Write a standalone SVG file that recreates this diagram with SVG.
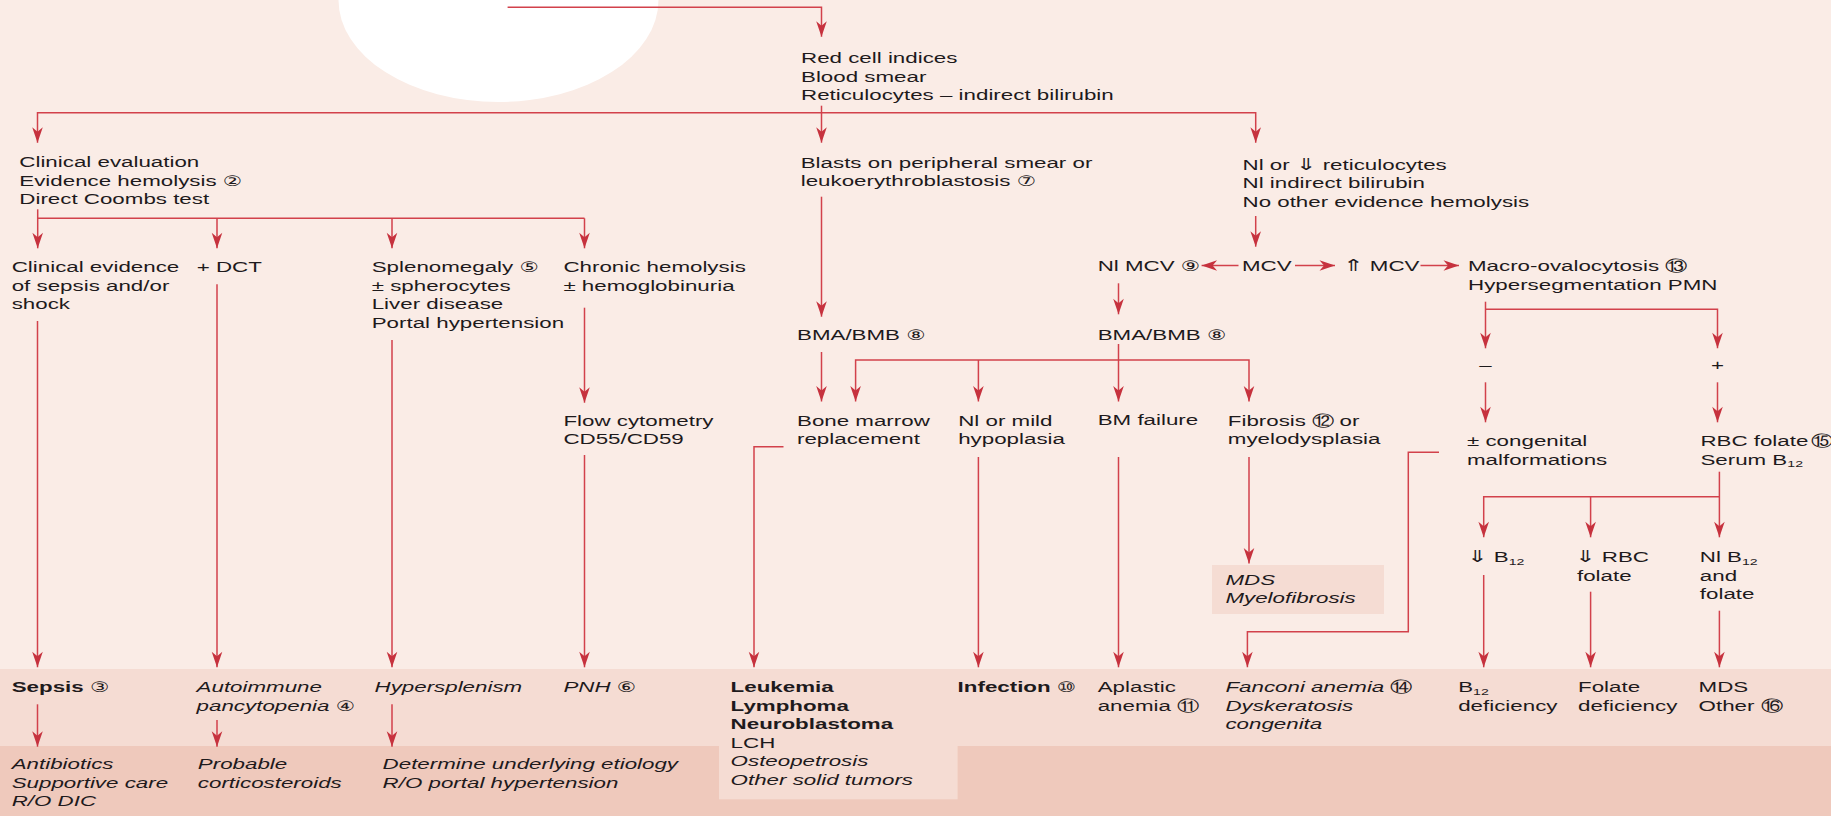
<svg xmlns="http://www.w3.org/2000/svg" width="1831" height="816" viewBox="0 0 1831 816">
<style>
.t{font-family:"Liberation Sans","DejaVu Sans",sans-serif;font-size:15px;fill:#1E1A1C}
.i{font-style:italic}
.b{font-weight:bold}
.c{font-family:"DejaVu Sans",sans-serif;font-size:14.5px;font-style:normal;font-weight:normal}
.a{font-family:"DejaVu Sans",sans-serif;font-size:16.5px;font-style:normal;font-weight:normal}
.s{font-size:9.5px}
.ln{fill:none;stroke:#D2414B;stroke-width:1.5}
.ar{marker-end:url(#ah)}
</style>
<defs>
<marker id="ah" viewBox="-16 -6 17 12" refX="0" refY="0" markerWidth="17" markerHeight="12" markerUnits="userSpaceOnUse" orient="auto">
<path d="M0,0 L-15.5,-5.3 L-11,0 L-15.5,5.3 Z" fill="#C6323E"/>
</marker>
</defs>
<g id="background">
<rect x="0" y="0" width="1831" height="816" fill="#FAECE6"/>
<ellipse cx="498.5" cy="0" rx="160" ry="102" fill="#FFFFFF"/>
<rect x="0" y="669" width="1831" height="77" fill="#F5DCD3"/>
<rect x="0" y="746" width="1831" height="70" fill="#EFC9BC"/>
<rect x="719" y="746" width="238.6" height="53.3" fill="#F5DCD3"/>
<rect x="1212" y="565" width="172" height="49" fill="#F5DCD3"/>
</g>
<g id="connectors">
<path class="ln ar" d="M507.6,7.3 H821.5 V36.7"/>
<path class="ln ar" d="M821.5,105.7 V142.7"/>
<path class="ln ar" d="M821.5,112.7 H37.5 V142.7"/>
<path class="ln ar" d="M821.5,112.7 H1255.7 V142.7"/>
<path class="ln ar" d="M37.7,209.3 V248.3"/>
<path class="ln" d="M37.7,218.3 H584.5"/>
<path class="ln ar" d="M217,218.3 V248.3"/>
<path class="ln ar" d="M392,218.3 V248.3"/>
<path class="ln ar" d="M584.5,218.3 V248.3"/>
<path class="ln ar" d="M37.5,321 V667.3"/>
<path class="ln ar" d="M217,284.3 V667.3"/>
<path class="ln ar" d="M392,340 V667.3"/>
<path class="ln ar" d="M584.5,307.7 V402.7"/>
<path class="ln ar" d="M584.5,455 V667.3"/>
<path class="ln ar" d="M821.5,196.7 V316.7"/>
<path class="ln ar" d="M821.5,352 V401.5"/>
<path class="ln ar" d="M1118.5,344 V401.5"/>
<path class="ln ar" d="M1118.5,360 H855.6 V401.5"/>
<path class="ln ar" d="M1118.5,360 H1249 V401.5"/>
<path class="ln ar" d="M978.4,360 V401.5"/>
<path class="ln ar" d="M1255.7,216 V246.7"/>
<path class="ln ar" d="M1238.5,265.5 H1201.6"/>
<path class="ln ar" d="M1295,265.5 H1335"/>
<path class="ln ar" d="M1420.5,265.5 H1459"/>
<path class="ln ar" d="M1118.5,283.3 V314.3"/>
<path class="ln ar" d="M1485.5,301.7 V348.3"/>
<path class="ln ar" d="M1485.5,309.3 H1717.5 V348.3"/>
<path class="ln ar" d="M1485.5,382.3 V422.3"/>
<path class="ln ar" d="M1717.5,382.3 V422.3"/>
<path class="ln ar" d="M1249,457 V563.5"/>
<path class="ln ar" d="M978.4,457 V667.3"/>
<path class="ln ar" d="M1118.5,457 V667.3"/>
<path class="ln ar" d="M1439,452.3 H1408.3 V631.7 H1247.4 V667.3"/>
<path class="ln ar" d="M783.5,446.7 H754 V667.3"/>
<path class="ln ar" d="M1719.4,471.7 V537.3"/>
<path class="ln ar" d="M1719.4,496.7 H1483.7 V537.3"/>
<path class="ln ar" d="M1590.6,496.7 V537.3"/>
<path class="ln ar" d="M1483.7,575 V667.3"/>
<path class="ln ar" d="M1590.6,591.7 V667.3"/>
<path class="ln ar" d="M1719.4,610.7 V667.3"/>
<path class="ln ar" d="M37.5,704.3 V746.7"/>
<path class="ln ar" d="M217,720 V746.7"/>
<path class="ln ar" d="M392,704.3 V746.7"/>
</g>
<g id="n-red-cell"><text class="t" transform="translate(801,63) scale(1.49,1)"><tspan x="0" y="0">Red cell indices</tspan><tspan x="0" y="18.6">Blood smear</tspan><tspan x="0" y="37.2">Reticulocytes – indirect bilirubin</tspan></text></g>
<g id="n-clinical-eval"><text class="t" transform="translate(19.3,167.3) scale(1.49,1)"><tspan x="0" y="0">Clinical evaluation</tspan><tspan x="0" y="18.6">Evidence hemolysis <tspan class="c">②</tspan></tspan><tspan x="0" y="37.2">Direct Coombs test</tspan></text></g>
<g id="n-blasts"><text class="t" transform="translate(800.7,167.7) scale(1.49,1)"><tspan x="0" y="0">Blasts on peripheral smear or</tspan><tspan x="0" y="18.6">leukoerythroblastosis <tspan class="c">⑦</tspan></tspan></text></g>
<g id="n-nl-retic"><text class="t" transform="translate(1242.5,169.5) scale(1.49,1)"><tspan x="0" y="0">Nl or <tspan class="a">⇓</tspan> reticulocytes</tspan><tspan x="0" y="18.6">Nl indirect bilirubin</tspan><tspan x="0" y="37.2">No other evidence hemolysis</tspan></text></g>
<g id="n-sepsis-evidence"><text class="t" transform="translate(11.7,272.3) scale(1.49,1)"><tspan x="0" y="0">Clinical evidence</tspan><tspan x="0" y="18.6">of sepsis and/or</tspan><tspan x="0" y="37.2">shock</tspan></text></g>
<g id="n-dct"><text class="t" transform="translate(196.7,272.3) scale(1.49,1)">+ DCT</text></g>
<g id="n-splenomegaly"><text class="t" transform="translate(371.7,272.3) scale(1.49,1)"><tspan x="0" y="0">Splenomegaly <tspan class="c">⑤</tspan></tspan><tspan x="0" y="18.6">± spherocytes</tspan><tspan x="0" y="37.2">Liver disease</tspan><tspan x="0" y="55.8">Portal hypertension</tspan></text></g>
<g id="n-chronic"><text class="t" transform="translate(563.4,272.3) scale(1.49,1)"><tspan x="0" y="0">Chronic hemolysis</tspan><tspan x="0" y="18.6">± hemoglobinuria</tspan></text></g>
<g id="n-nl-mcv"><text class="t" transform="translate(1097.7,271.3) scale(1.49,1)">Nl MCV <tspan class="c">⑨</tspan></text></g>
<g id="n-mcv"><text class="t" transform="translate(1242,271.3) scale(1.49,1)">MCV</text></g>
<g id="n-up-mcv"><text class="t" transform="translate(1343,271.3) scale(1.49,1)"><tspan class="a">⇑</tspan> MCV</text></g>
<g id="n-macro"><text class="t" transform="translate(1468,271.3) scale(1.49,1)"><tspan x="0" y="0">Macro-ovalocytosis <tspan class="c">⑬</tspan></tspan><tspan x="0" y="18.6">Hypersegmentation PMN</tspan></text></g>
<g id="n-bma1"><text class="t" transform="translate(797,339.6) scale(1.49,1)">BMA/BMB <tspan class="c">⑧</tspan></text></g>
<g id="n-bma2"><text class="t" transform="translate(1097.7,339.6) scale(1.49,1)">BMA/BMB <tspan class="c">⑧</tspan></text></g>
<g id="n-minus"><text class="t" text-anchor="middle" transform="translate(1485.5,370) scale(1.49,1)">–</text></g>
<g id="n-plus"><text class="t" text-anchor="middle" transform="translate(1717.5,370) scale(1.49,1)">+</text></g>
<g id="n-flow"><text class="t" transform="translate(563.4,425.6) scale(1.49,1)"><tspan x="0" y="0">Flow cytometry</tspan><tspan x="0" y="18.6">CD55/CD59</tspan></text></g>
<g id="n-bm-replacement"><text class="t" transform="translate(797,425.6) scale(1.49,1)"><tspan x="0" y="0">Bone marrow</tspan><tspan x="0" y="18.6">replacement</tspan></text></g>
<g id="n-hypoplasia"><text class="t" transform="translate(958.2,425.6) scale(1.49,1)"><tspan x="0" y="0">Nl or mild</tspan><tspan x="0" y="18.6">hypoplasia</tspan></text></g>
<g id="n-bm-failure"><text class="t" transform="translate(1097.7,425.2) scale(1.49,1)">BM failure</text></g>
<g id="n-fibrosis"><text class="t" transform="translate(1227.8,425.6) scale(1.49,1)"><tspan x="0" y="0">Fibrosis <tspan class="c">⑫</tspan> or</tspan><tspan x="0" y="18.6">myelodysplasia</tspan></text></g>
<g id="n-congenital"><text class="t" transform="translate(1467,446.3) scale(1.49,1)"><tspan x="0" y="0">± congenital</tspan><tspan x="0" y="18.6">malformations</tspan></text></g>
<g id="n-rbc-folate"><text class="t" transform="translate(1700.4,446.3) scale(1.49,1)"><tspan x="0" y="0">RBC folate<tspan class="c" dx="1.5">⑮</tspan></tspan><tspan x="0" y="18.6">Serum B<tspan class="s" dy="2.5">12</tspan></tspan></text></g>
<g id="n-low-b12"><text class="t" transform="translate(1467,562) scale(1.49,1)"><tspan class="a">⇓</tspan> B<tspan class="s" dy="2.5">12</tspan></text></g>
<g id="n-low-folate"><text class="t" transform="translate(1575,562) scale(1.49,1)"><tspan x="0" y="0"><tspan class="a">⇓</tspan> RBC</tspan><tspan x="1.3" y="18.6">folate</tspan></text></g>
<g id="n-nl-b12"><text class="t" transform="translate(1699.8,562) scale(1.49,1)"><tspan x="0" y="0">Nl B<tspan class="s" dy="2.5">12</tspan></tspan><tspan x="0" y="18.6">and</tspan><tspan x="0" y="37.2">folate</tspan></text></g>
<g id="n-mds-box"><text class="t i" transform="translate(1225.4,584.6) scale(1.49,1)"><tspan x="0" y="0">MDS</tspan><tspan x="0" y="18.6">Myelofibrosis</tspan></text></g>
<g id="n-sepsis"><text class="t b" transform="translate(11.7,692) scale(1.49,1)">Sepsis <tspan class="c">③</tspan></text></g>
<g id="n-autoimmune"><text class="t i" transform="translate(196.6,692) scale(1.49,1)"><tspan x="0" y="0">Autoimmune</tspan><tspan x="0" y="18.6">pancytopenia <tspan class="c">④</tspan></tspan></text></g>
<g id="n-hypersplenism"><text class="t i" transform="translate(374.5,692) scale(1.49,1)">Hypersplenism</text></g>
<g id="n-pnh"><text class="t i" transform="translate(563.4,692) scale(1.49,1)">PNH <tspan class="c">⑥</tspan></text></g>
<g id="n-leukemia"><text class="t" transform="translate(730.6,692) scale(1.49,1)"><tspan class="b" x="0" y="0">Leukemia</tspan><tspan class="b" x="0" y="18.6">Lymphoma</tspan><tspan class="b" x="0" y="37.2">Neuroblastoma</tspan><tspan x="0" y="55.8">LCH</tspan><tspan class="i" x="0" y="74.4">Osteopetrosis</tspan><tspan class="i" x="0" y="93">Other solid tumors</tspan></text></g>
<g id="n-infection"><text class="t b" transform="translate(957.6,692) scale(1.49,1)">Infection <tspan class="c">⑩</tspan></text></g>
<g id="n-aplastic"><text class="t" transform="translate(1097.7,692) scale(1.49,1)"><tspan x="0" y="0">Aplastic</tspan><tspan x="0" y="18.6">anemia <tspan class="c">⑪</tspan></tspan></text></g>
<g id="n-fanconi"><text class="t i" transform="translate(1225.4,692) scale(1.49,1)"><tspan x="0" y="0">Fanconi anemia <tspan class="c">⑭</tspan></tspan><tspan x="0" y="18.6">Dyskeratosis</tspan><tspan x="0" y="37.2">congenita</tspan></text></g>
<g id="n-b12-def"><text class="t" transform="translate(1458.2,692) scale(1.49,1)"><tspan x="0" y="0">B<tspan class="s" dy="2.5">12</tspan></tspan><tspan x="0" y="18.6">deficiency</tspan></text></g>
<g id="n-folate-def"><text class="t" transform="translate(1578,692) scale(1.49,1)"><tspan x="0" y="0">Folate</tspan><tspan x="0" y="18.6">deficiency</tspan></text></g>
<g id="n-mds-other"><text class="t" transform="translate(1698.6,692) scale(1.49,1)"><tspan x="0" y="0">MDS</tspan><tspan x="0" y="18.6">Other <tspan class="c">⑯</tspan></tspan></text></g>
<g id="n-antibiotics"><text class="t i" transform="translate(11.7,769) scale(1.49,1)"><tspan x="0" y="0">Antibiotics</tspan><tspan x="0" y="18.6">Supportive care</tspan><tspan x="0" y="37.2">R/O DIC</tspan></text></g>
<g id="n-steroids"><text class="t i" transform="translate(197.8,769) scale(1.49,1)"><tspan x="0" y="0">Probable</tspan><tspan x="0" y="18.6">corticosteroids</tspan></text></g>
<g id="n-etiology"><text class="t i" transform="translate(382.6,769) scale(1.49,1)"><tspan x="0" y="0">Determine underlying etiology</tspan><tspan x="0" y="18.6">R/O portal hypertension</tspan></text></g>
</svg>
